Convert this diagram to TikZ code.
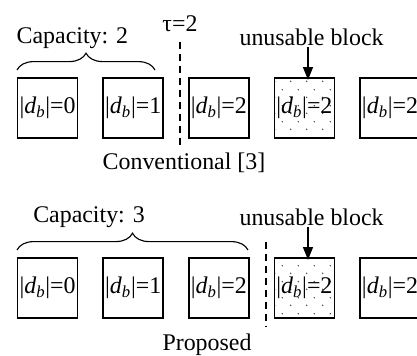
\documentclass[tikz,border=0pt]{standalone}
\usepackage{fontspec}
\setmainfont{Liberation Serif}
\usepackage{tikz}
\usetikzlibrary{arrows,arrows.meta,positioning,decorations.pathreplacing,patterns}

\pgfdeclarepatternformonly{sparsedots}{\pgfpointorigin}{\pgfpoint{11.4pt}{11.4pt}}{\pgfpoint{11.4pt}{11.4pt}}{
  \pgfpathcircle{\pgfpoint{2pt}{2pt}}{0.6pt}
  \pgfpathcircle{\pgfpoint{7.7pt}{7.7pt}}{0.6pt}
  \pgfusepath{fill}}

\begin{document}
\begin{tikzpicture}[
    font=\fontsize{17}{20}\selectfont,
    block/.style={rectangle, draw=black, line width=1.2pt, minimum width=1.5cm, minimum height=1.5cm, inner sep=0pt},
    unusable/.style={block, pattern=sparsedots, pattern color=black!75},
    label/.style={draw=none, fill=none, inner sep=1pt},
    arrow/.style={line width=0.8pt, -{Triangle[length=9pt,width=7pt]}},
    cut/.style={dashed, line width=1.1pt, dash pattern=on 5pt off 3.5pt},
    capbrace/.style={decorate, decoration={brace, amplitude=0.42cm}, line width=0.8pt}
]
\clip (0,0) rectangle (10.425,8.9);

% Conventional
\node[block] (convA) at (1.19, 6.2) {|\textit{d}\textsubscript{\textit{b}}|=0};
\node[block] (convB) at (3.33, 6.2) {|\textit{d}\textsubscript{\textit{b}}|=1};
\node[block] (convC) at (5.47, 6.2) {|\textit{d}\textsubscript{\textit{b}}|=2};
\node[unusable] (convD) at (7.61, 6.2) {|\textit{d}\textsubscript{\textit{b}}|=2};
\node[block] (convE) at (9.75, 6.2) {|\textit{d}\textsubscript{\textit{b}}|=2};

\node[label] (capA) at (1.81, 7.95) {Capacity: 2};
\node[label] (tau) at (4.5, 8.3) {τ=2};
\node[label] (lblA) at (7.79, 7.975) {unusable block};
\node[label] (convTitle) at (4.6, 4.83) {Conventional [3]};

\draw[capbrace] (0.425, 7.15) -- (3.875, 7.15);
\draw[cut] (4.5, 7.85) -- (4.5, 5.225);
\draw[arrow] (lblA.south -| convD.north) ++(0.09, 0) -- ++(0, -0.82);

% Proposed
\node[block] (propA) at (1.19, 1.7) {|\textit{d}\textsubscript{\textit{b}}|=0};
\node[block] (propB) at (3.33, 1.7) {|\textit{d}\textsubscript{\textit{b}}|=1};
\node[block] (propC) at (5.47, 1.7) {|\textit{d}\textsubscript{\textit{b}}|=2};
\node[unusable] (propD) at (7.61, 1.7) {|\textit{d}\textsubscript{\textit{b}}|=2};
\node[block] (propE) at (9.75, 1.7) {|\textit{d}\textsubscript{\textit{b}}|=2};

\node[label] (capB) at (2.225, 3.475) {Capacity: 3};
\node[label] (lblB) at (7.79, 3.475) {unusable block};
\node[label] (propTitle) at (5.175, 0.275) {Proposed};

\draw[capbrace] (0.425, 2.65) -- (6.2, 2.65);
\draw[cut] (6.65, 2.85) -- (6.65, 0.725);
\draw[arrow] (lblB.south -| propD.north) ++(0.09, 0) -- ++(0, -0.82);

\end{tikzpicture}
\end{document}
